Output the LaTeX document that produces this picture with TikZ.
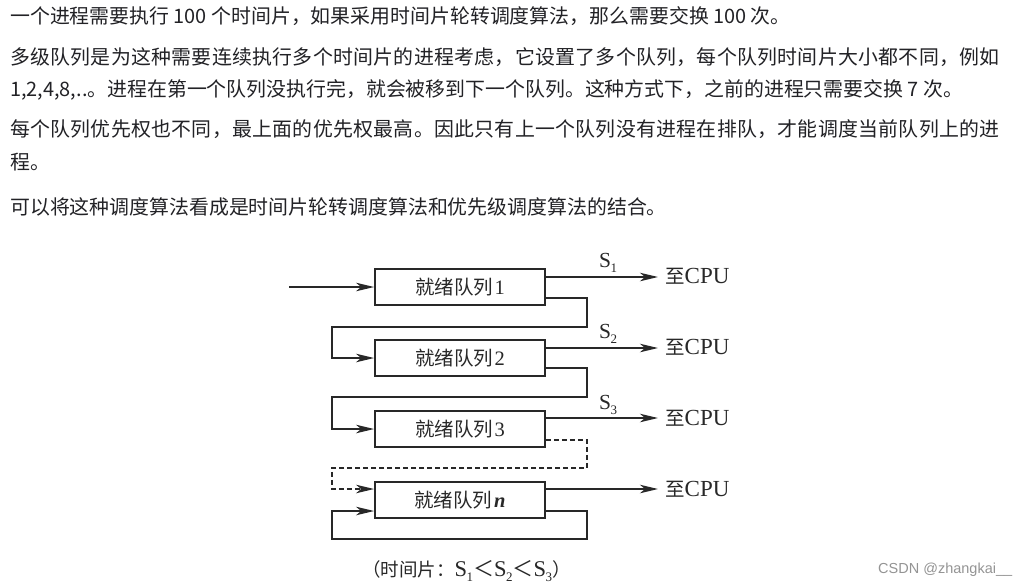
\documentclass[tikz,border=0pt]{standalone}
\usepackage{fontspec}
\setmainfont{Liberation Serif}
\newfontfamily\cjk{Noto Sans CJK SC}
\newfontfamily\wmfont{Liberation Sans}
\usetikzlibrary{arrows.meta,calc}
\definecolor{txt}{RGB}{34,34,38}
\definecolor{dg}{RGB}{40,40,40}
\newcommand\qlabel[1]{{\cjk\fontsize{19.5}{20}\selectfont 就绪队列}\,{\fontsize{20.5}{20}\selectfont #1}}
\newcommand\subn[1]{\kern-0.5pt\raisebox{-5pt}{\fontsize{13}{13}\selectfont #1}}
\newcommand\tocpu{{\cjk\fontsize{19.5}{20}\selectfont 至}{\fontsize{23}{22}\selectfont CPU}}
\begin{document}
\begin{tikzpicture}[x=1pt,y=-1pt,
  para/.style={anchor=base west,inner sep=0,text=txt,font=\cjk\fontsize{19.9}{24}\selectfont},
  qbox/.style={draw=dg,line width=1.8pt,minimum width=170pt,minimum height=36pt,inner sep=0,text=dg},
  arr/.style={draw=dg,line width=1.5pt,-{Stealth[length=18pt,width=8.5pt,inset=5pt]}},
  slbl/.style={anchor=base west,inner sep=0,text=dg,font=\fontsize{21.5}{20}\selectfont},
  cpul/.style={anchor=base west,inner sep=0,text=dg}]
\useasboundingbox[fill=white] (0,0) rectangle (1033,587);

% paragraphs
\node[para] (p1) at (10,23.5) {一个进程需要执行 100 个时间片，如果采用时间片轮转调度算法，那么需要交换 100 次。};
\node[para,font=\cjk\fontsize{19.9}{24}\selectfont\addfontfeature{LetterSpace=1.5}] (p2) at (10,64.5) {多级队列是为这种需要连续执行多个时间片的进程考虑，它设置了多个队列，每个队列时间片大小都不同，例如};
\node[para] (p3) at (10,96.5) {1,2,4,8,..。进程在第一个队列没执行完，就会被移到下一个队列。这种方式下，之前的进程只需要交换 7 次。};
\node[para,font=\cjk\fontsize{19.9}{24}\selectfont\addfontfeature{LetterSpace=1.5}] (p4) at (10,136.5) {每个队列优先权也不同，最上面的优先权最高。因此只有上一个队列没有进程在排队，才能调度当前队列上的进};
\node[para] (p5) at (10,169.5) {程。};
\node[para] (p6) at (10,214.5) {可以将这种调度算法看成是时间片轮转调度算法和优先级调度算法的结合。};

% queues
\node[qbox] (q1) at (460,287) {\qlabel{1}};
\node[qbox] (q2) at (460,358) {\qlabel{2}};
\node[qbox] (q3) at (460,429) {\qlabel{3}};
\node[qbox] (qn) at (460,500) {\qlabel{\bfseries\itshape n}};

% to CPU labels
\node[cpul] (c1) at (665,283) {\tocpu};
\node[cpul] (c2) at (665,354) {\tocpu};
\node[cpul] (c3) at (665,425) {\tocpu};
\node[cpul] (cn) at (665,496) {\tocpu};

\coordinate (o1) at (658,277);
\coordinate (o2) at (658,348);
\coordinate (o3) at (658,418);
\coordinate (on) at (658,489);

\node[slbl] (s1) at (599,267) {S\subn{1}};
\node[slbl] (s2) at (599,338) {S\subn{2}};
\node[slbl] (s3) at (599,409) {S\subn{3}};

% input
\coordinate (in) at (289,287);
\draw[arr] (in) -- (q1.west);

% outputs
\draw[arr] (q1.east |- o1) -- (o1);
\draw[arr] (q2.east |- o2) -- (o2);
\draw[arr] (q3.east |- o3) -- (o3);
\draw[arr] (qn.east |- on) -- (on);

% feedback
\coordinate (r1) at (587,327); \coordinate (l1) at (332,327);
\coordinate (r2) at (587,397); \coordinate (l2) at (332,397);
\coordinate (r3) at (587,468); \coordinate (l3) at (332,468);
\coordinate (r4) at (587,539); \coordinate (l4) at (332,539);

\draw[arr] ($(q1.east)+(0,11)$) -| (r1) -- (l1) |- (q2.west);
\draw[arr] ($(q2.east)+(0,10)$) -| (r2) -- (l2) |- (q3.west);
\draw[arr,dash pattern=on 5pt off 3pt] ($(q3.east)+(0,11)$) -| (r3) -- (l3) |- ($(qn.west)+(0,-11)$);
\draw[arr] ($(qn.east)+(0,11)$) -| (r4) -- (l4) |- ($(qn.west)+(0,11)$);

% caption
\node[anchor=base west,inner sep=0,text=dg,font=\fontsize{22.5}{20}\selectfont] (cap) at (362,576)
 {{\cjk\fontsize{18.5}{20}\selectfont （时间片：}S\subn{1}{\cjk\fontsize{21}{20}\selectfont ＜}S\subn{2}{\cjk\fontsize{21}{20}\selectfont ＜}S\subn{3}{\cjk\fontsize{18.5}{20}\selectfont ）}};

% watermark
\node[anchor=base west,inner sep=0,text=black!42,font=\wmfont\fontsize{14.5}{16}\selectfont] (wm) at (878,573) {CSDN @zhangkai\_\_};
\end{tikzpicture}
\end{document}
